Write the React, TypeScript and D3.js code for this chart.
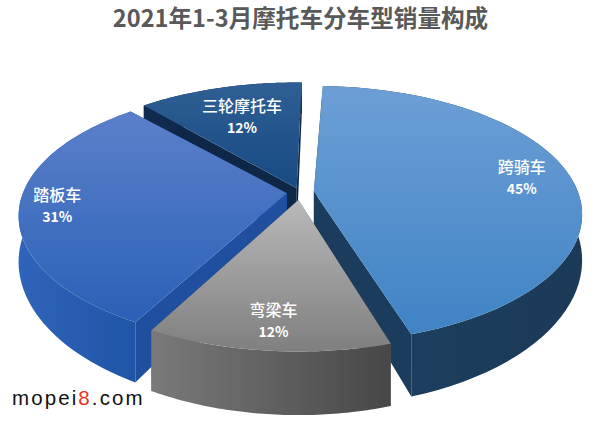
import * as d3 from 'd3';

const width = 600;
const height = 421;

// labels and printed shares as they stand in the picture
const categories = ['跨骑车', '弯梁车', '踏板车', '三轮摩托车'];
const shareLabels = ['45%', '12%', '31%', '12%'];
// the slices are not drawn quite to the printed numbers, these are measured off the picture
const shares = [44.9, 12.6, 30.6, 11.9];

// layout per slice: how far it is pulled out, where its label sits on the radius
const explode = [0.053, 0.06, 0.05, 0.037];
const labelRadius = [0.81, 0.83, 0.86, 0.68];

// colours per slice
const topColors = [['#6d9fd5', '#3f83c5'], ['#b9b9b9', '#7f7f7f'], ['#5b80ca', '#2a60b6'], ['#2f5f94', '#164a82']];
const wallColors = [['#1d3f60', '#1b3a58'], ['#7a7a7a', '#474747'], ['#2f64ba', '#1f55a6'], ['#0f2a4d', '#0f2a4d']];
const sideColors = ['#1b3c5c', '#666666', '#1f4f9e', '#0e2747'];

const titleText = '2021年1-3月摩托车分车型销量构成';

// perspective of the pie plane, fitted to the picture
const cx = 300;
const cy = 192.5;
const radiusX = 264;
const radiusY = 124.5;
const tilt = 0.178;
const depth = 43;
const padAngle = (1 * Math.PI) / 180;

type Pt = [number, number];

// r and angle on the pie plane to an offset on screen (far side gets squeezed)
const project = (r: number, a: number): Pt => {
  const X = r * Math.sin(a);
  const Y = r * Math.cos(a);
  const d = 1 + tilt * Y;
  return [(radiusX * X) / d, (-radiusY * Y) / d];
};

// how far the bottom of the wall drops below a point on the top face
const drop = (r: number, a: number) => {
  const d = 1 + tilt * r * Math.cos(a);
  return depth / (d * d);
};

const pie = d3.pie<number>()
  .sort(null)
  .startAngle((1.8 * Math.PI) / 180)
  .endAngle((361.8 * Math.PI) / 180)
  .padAngle(padAngle);

const slices = pie(shares).map((s, i) => {
  const start = s.startAngle + padAngle / 2;
  const end = s.endAngle - padAngle / 2;
  const mid = (start + end) / 2;
  const [ax, ay] = project(explode[i], mid);
  const apex: Pt = [cx + ax, cy + ay];
  const angles = d3.range(0, 61).map(k => start + ((end - start) * k) / 60);
  const rim: Pt[] = angles.map(a => {
    const [x, y] = project(1, a);
    return [apex[0] + x, apex[1] + y];
  });
  const rimLow: Pt[] = angles.map((a, k) => [rim[k][0], rim[k][1] + drop(1, a)]);
  const apexLow: Pt = [apex[0], apex[1] + depth];
  const [lx, ly] = project(labelRadius[i], mid);
  return { i, apex, apexLow, rim, rimLow, label: [apex[0] + lx, apex[1] + ly] as Pt };
});

const line = d3.line<Pt>().x(d => d[0]).y(d => d[1]);
const closed = (pts: Pt[]) => (line(pts) || '') + 'Z';

// back to front
const paintOrder = [3, 2, 0, 1];

const labelStyle = {
  fontFamily: '"Noto Sans CJK SC", sans-serif',
  fontSize: 16,
  fontWeight: 500,
  fill: '#ffffff',
  textAnchor: 'middle' as const,
};

const App = () => {
  return (
    <svg
      width={width}
      height={height}
      viewBox={`0 0 ${width} ${height}`}
      style={{ position: 'absolute', left: 0, top: 0, background: '#ffffff' }}
    >
      <defs>
        {slices.map(s => (
          <g key={s.i}>
            <linearGradient
              id={`top${s.i}`}
              gradientUnits="userSpaceOnUse"
              x1={0}
              x2={0}
              y1={d3.min([...s.rim, s.apex], d => d[1])}
              y2={d3.max([...s.rim, s.apex], d => d[1])}
            >
              <stop offset="0%" stopColor={topColors[s.i][0]} />
              <stop offset="100%" stopColor={topColors[s.i][1]} />
            </linearGradient>
            <linearGradient
              id={`wall${s.i}`}
              gradientUnits="userSpaceOnUse"
              y1={0}
              y2={0}
              x1={d3.min(s.rim, d => d[0])}
              x2={d3.max(s.rim, d => d[0])}
            >
              <stop offset="0%" stopColor={wallColors[s.i][0]} />
              <stop offset="100%" stopColor={wallColors[s.i][1]} />
            </linearGradient>
          </g>
        ))}
      </defs>

      <text
        x={300.5}
        y={26.5}
        textAnchor="middle"
        style={{ fontFamily: '"Noto Sans CJK SC", sans-serif', fontSize: 23.6, fontWeight: 700, fill: '#595959' }}
      >
        {titleText}
      </text>

      {paintOrder.map(i => {
        const s = slices[i];
        const last = s.rim.length - 1;
        return (
          <g key={categories[i]}>
            <path d={closed([s.apex, s.rim[0], s.rimLow[0], s.apexLow])} fill={sideColors[i]} />
            <path d={closed([s.apex, s.rim[last], s.rimLow[last], s.apexLow])} fill={sideColors[i]} />
            <path d={closed([...s.rim, ...[...s.rimLow].reverse()])} fill={`url(#wall${i})`} />
            <path d={closed([s.apex, ...s.rim])} fill={`url(#top${i})`} />
          </g>
        );
      })}

      {slices.map(s => (
        <g key={s.i} style={labelStyle}>
          <text x={s.label[0]} y={s.label[1] - 5}>{categories[s.i]}</text>
          <text x={s.label[0]} y={s.label[1] + 16} style={{ fontSize: 14, fontWeight: 700 }}>{shareLabels[s.i]}</text>
        </g>
      ))}

      <text
        x={12}
        y={405}
        style={{ fontFamily: '"Liberation Sans", sans-serif', fontSize: 20.5, letterSpacing: 2.1, fill: '#111111' }}
      >
        mopei<tspan fill="#e8321e">8</tspan>.com
      </text>
    </svg>
  );
};

export default App;
